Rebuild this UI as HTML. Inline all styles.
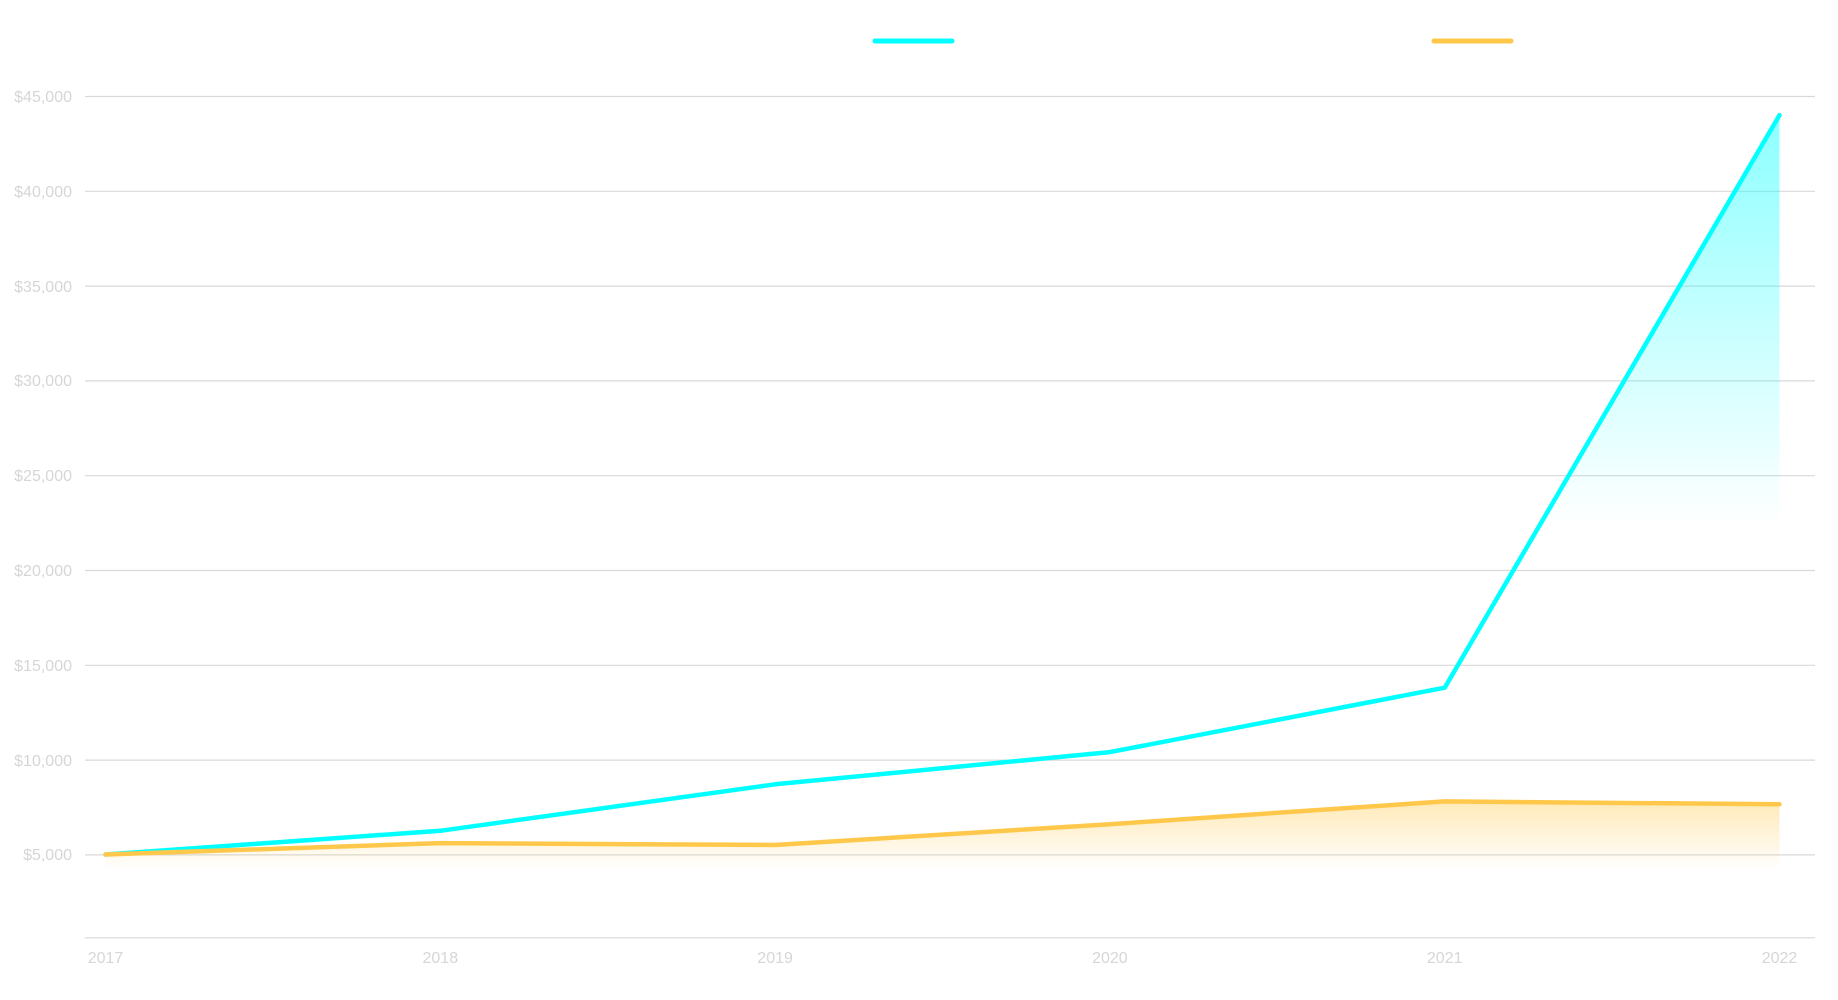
<!DOCTYPE html>
<html><head><style>body{margin:0;background:#fff}svg{display:block}text{font-family:"Liberation Sans",sans-serif;fill:#d6d6d6;font-size:16px}</style></head><body>
<svg width="1838" height="1000" viewBox="0 0 1838 1000">
<defs>
<linearGradient id="gc" x1="0" y1="115" x2="0" y2="525" gradientUnits="userSpaceOnUse"><stop offset="0" stop-color="#00ffff" stop-opacity="0.45"/><stop offset="1" stop-color="#00ffff" stop-opacity="0"/></linearGradient>
<linearGradient id="go" x1="0" y1="800" x2="0" y2="870" gradientUnits="userSpaceOnUse"><stop offset="0" stop-color="#ffc84a" stop-opacity="0.4"/><stop offset="1" stop-color="#ffc84a" stop-opacity="0"/></linearGradient>
</defs>
<g stroke="#d9d9d9" stroke-width="1.2">
<line x1="85" x2="1815" y1="96.5" y2="96.5"/><line x1="85" x2="1815" y1="191.3" y2="191.3"/><line x1="85" x2="1815" y1="286.1" y2="286.1"/><line x1="85" x2="1815" y1="380.9" y2="380.9"/><line x1="85" x2="1815" y1="475.7" y2="475.7"/><line x1="85" x2="1815" y1="570.5" y2="570.5"/><line x1="85" x2="1815" y1="665.3" y2="665.3"/><line x1="85" x2="1815" y1="760.1" y2="760.1"/><line x1="85" x2="1815" y1="854.9" y2="854.9"/><line x1="85" x2="1815" y1="937.8" y2="937.8"/>
</g>
<g text-anchor="end">
<text x="72" y="102">$45,000</text><text x="72" y="197">$40,000</text><text x="72" y="292">$35,000</text><text x="72" y="386">$30,000</text><text x="72" y="481">$25,000</text><text x="72" y="576">$20,000</text><text x="72" y="671">$15,000</text><text x="72" y="766">$10,000</text><text x="72" y="860">$5,000</text>
</g>
<g text-anchor="middle">
<text x="105.5" y="963">2017</text><text x="440.3" y="963">2018</text><text x="775.1" y="963">2019</text><text x="1109.9" y="963">2020</text><text x="1444.7" y="963">2021</text><text x="1779.5" y="963">2022</text>
</g>
<path d="M105.5,854.5 L440.3,830.8 L775.1,784.3 L1109.9,752.1 L1444.7,687.7 L1779.5,115.1 L1779.5,870 L105.5,870Z" fill="url(#gc)"/>
<path d="M105.5,854.5 L440.3,843.1 L775.1,845 L1109.9,824.2 L1444.7,801.4 L1779.5,804.3 L1779.5,870 L105.5,870Z" fill="url(#go)"/>
<polyline points="105.5,854.5 440.3,830.8 775.1,784.3 1109.9,752.1 1444.7,687.7 1779.5,115.1" fill="none" stroke="#00ffff" stroke-width="4.5" stroke-linejoin="round" stroke-linecap="round"/>
<polyline points="105.5,854.5 440.3,843.1 775.1,845 1109.9,824.2 1444.7,801.4 1779.5,804.3" fill="none" stroke="#ffc84a" stroke-width="4.5" stroke-linejoin="round" stroke-linecap="round"/>
<line x1="875" x2="952" y1="41" y2="41" stroke="#00ffff" stroke-width="5" stroke-linecap="round"/>
<line x1="1434" x2="1511" y1="41" y2="41" stroke="#ffc84a" stroke-width="5" stroke-linecap="round"/>
</svg>
</body></html>
